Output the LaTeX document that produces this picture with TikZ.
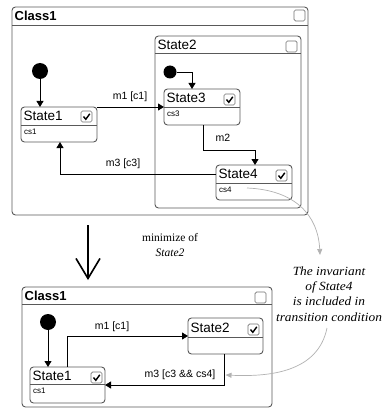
\documentclass[tikz,border=0pt]{standalone}
\usepackage{fontspec}
\setmainfont{Liberation Serif}
\setsansfont{Liberation Sans}
\newfontfamily\notefont[FakeStretch=1.07]{Liberation Serif}
\usetikzlibrary{arrows.meta,calc}
\tikzset{
 sbox/.style={draw=black!65, line width=0.9pt, rounded corners=3.5pt, fill=white, anchor=north west, inner sep=0pt, outer sep=0pt},
 sline/.style={draw=black!65, line width=0.9pt},
 stitle/.style={anchor=west, inner sep=0pt, font=\sffamily\fontsize{13.5}{14}\selectfont},
 sbody/.style={anchor=west, inner sep=0pt, font=\sffamily\fontsize{8}{9}\selectfont},
 cbox/.style={draw=black!55, line width=0.7pt, rounded corners=1.5pt, fill=white, anchor=north west, minimum size=11pt, inner sep=0pt, outer sep=0pt},
 ckmark/.style={line width=1.4pt, black, line join=miter},
 initdot/.style={circle, fill=black, inner sep=0pt, outer sep=0pt},
 tr/.style={line width=0.8pt, black, -{Triangle[length=6pt,width=7pt]}},
 tlabel/.style={font=\sffamily\fontsize{10.5}{11}\selectfont, inner sep=0pt},
 note/.style={draw=black!30, line width=0.7pt, -{Triangle[length=6pt,width=5pt,fill=black!30]}},
 notetext/.style={font=\notefont\itshape\fontsize{12.5}{15.3}\selectfont, align=center, inner sep=0pt},
 minitext/.style={font=\fontsize{11.5}{15}\selectfont, align=center, inner sep=0pt},
}
\newcommand\ustate[8]{%
 \node[sbox, minimum width=#4pt, minimum height=#5pt] (#1) at (#2,#3) {};
 \draw[sline] ([yshift=-#6pt]#1.north west) -- ([yshift=-#6pt]#1.north east);
 \node[stitle] (#1-t) at ([shift={(2.5pt,-#6pt/2)}]#1.north west) {#7};
 \node[sbody] (#1-b) at ([shift={(3pt,-#6pt-7pt)}]#1.north west) {#8};
}
\newcommand\ubox[3]{\node[cbox] (#1) at (#2,#3) {};}
\newcommand\ucheck[3]{%
 \ubox{#1}{#2}{#3}
 \draw[ckmark] ([shift={(2.5pt,-5.5pt)}]#1.north west) -- ([shift={(4.8pt,-8.3pt)}]#1.north west) -- ([shift={(8.8pt,-2.8pt)}]#1.north west);
}
\begin{document}
\begin{tikzpicture}[x=1pt,y=-1pt]
\useasboundingbox[fill=white] (0,0) rectangle (382,409);
% ---------- top diagram ----------
\ustate{ca}{12}{7}{296}{208}{18}{\bfseries\fontsize{13}{14}\selectfont Class1}{}
\ubox{ca-c}{294}{10}
\ustate{sb}{155}{36}{146}{172}{17}{State2}{}
\ubox{sb-c}{286}{41}
\ustate{s1}{21}{107}{76}{35}{18}{State1}{cs1}
\ucheck{s1-c}{81}{111}
\ustate{s3}{164}{89}{76}{36}{18}{State3}{cs3}
\ucheck{s3-c}{224}{94}
\ustate{s4}{216}{165}{76}{35}{18}{State4}{cs4}
\ucheck{s4-c}{276}{170}
\node[initdot, minimum size=16pt] (i1) at (40,71) {};
\node[initdot, minimum size=13pt] (i2) at (170,72) {};
\draw[tr] (i1) -- (i1 |- s1.north);
\draw[tr] (i2.east) -| ([xshift=28pt]s3.north west);
\draw[tr] (s1.north east) -- (s1.north east -| s3.west);
\node[tlabel] (l1) at (130,97) {m1 [c1]};
\draw[tr] ([xshift=39pt]s3.south west) -- ++(0,25) -| ([xshift=39pt]s4.north west);
\node[tlabel] (l2) at (223,138) {m2};
\draw[tr] ([yshift=-9pt]s4.north west) -| ([xshift=39pt]s1.south west);
\node[tlabel] (l3) at (123,164) {m3 [c3]};
% ---------- transformation arrow ----------
\coordinate (ba) at (88,225);
\coordinate (bb) at (88,280);
\draw[line width=1.6pt, -{Straight Barb[length=20pt,width=24pt,line width=1.6pt]}] (ba) -- (bb);
\node[minitext] (mt) at (170,245) {minimize of\\\textit{State2}};
% ---------- bottom diagram ----------
\ustate{cb}{22}{287}{250}{120}{17}{\bfseries\fontsize{13}{14}\selectfont Class1}{}
\ubox{cb-c}{255}{292}
\ustate{t2}{188}{318}{75}{36}{19}{State2}{}
\ucheck{t2-c}{248}{324}
\ustate{t1}{30}{367}{75}{36}{17}{State1}{cs1}
\ucheck{t1-c}{91}{372}
\node[initdot, minimum size=16pt] (i3) at (48,322) {};
\draw[tr] (i3) -- (i3 |- t1.north);
\draw[tr] ([xshift=37pt]t1.north west) |- (t2.west);
\node[tlabel] (l4) at (112,327) {m1 [c1]};
\draw[tr] ([xshift=36pt]t2.south west) |- (t1.east);
\node[tlabel] (l5) at (180,375) {m3 [c3 \&\& cs4]};
% ---------- note ----------
\node[notetext] (nt) at (329,294) {The invariant\\of State4\\is included in\\transition condition};
\coordinate (n1) at (247,188);
\draw[note] (n1) .. controls (295,190) and (318,215) .. (320,255);
\draw[note] (327,328) .. controls (318,372) and (270,377) .. ([xshift=10pt]l5.east);
\end{tikzpicture}
\end{document}
